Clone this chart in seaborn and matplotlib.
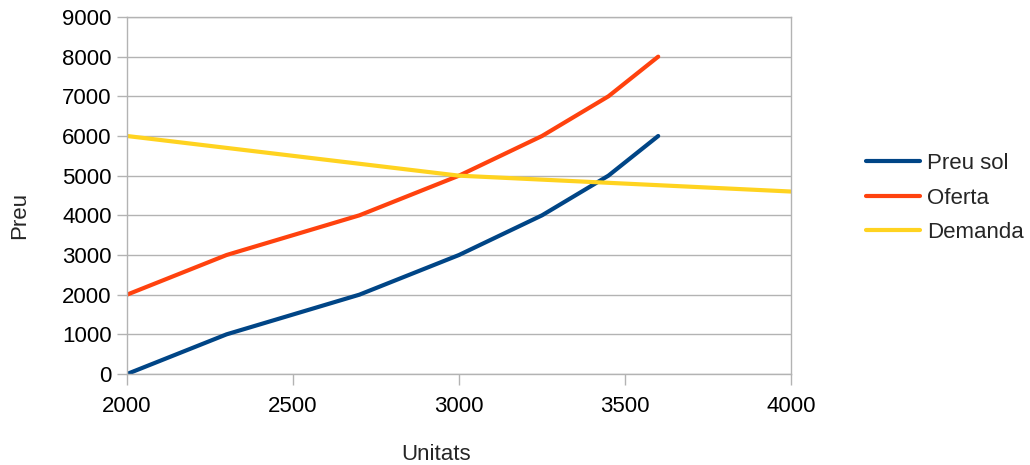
import matplotlib
matplotlib.use("Agg")
import matplotlib.pyplot as plt
import seaborn as sns
import pandas as pd

units = [2000, 2300, 2700, 3000, 3250, 3450, 3600]
preu_sol = [0, 1000, 2000, 3000, 4000, 5000, 6000]
oferta = [2000, 3000, 4000, 5000, 6000, 7000, 8000]
demanda_units = [2000, 2300, 2700, 3000, 3250, 3450, 3600, 4000]
demanda = [6000, 5700, 5300, 5000, 4900, 4820, 4760, 4600]

series_names = ["Preu sol", "Oferta", "Demanda"]
colors = ["#004586", "#ff420e", "#ffd320"]

df = pd.concat([
    pd.DataFrame({"Unitats": units, "Preu": preu_sol, "Serie": "Preu sol"}),
    pd.DataFrame({"Unitats": units, "Preu": oferta, "Serie": "Oferta"}),
    pd.DataFrame({"Unitats": demanda_units, "Preu": demanda, "Serie": "Demanda"}),
], ignore_index=True)

sns.set_style("white")
plt.rcParams["font.family"] = ["Liberation Sans", "DejaVu Sans"]

fig = plt.figure(figsize=(10.3, 4.65), dpi=100)
ax = fig.add_axes([127/1030, 1-374/465, 664/1030, 357/465])

sns.lineplot(data=df, x="Unitats", y="Preu", hue="Serie", hue_order=series_names,
             palette=colors, linewidth=3.0, sort=False, ax=ax, legend=False)

ax.set_xlim(2000, 4000)
ax.set_ylim(0, 9000)
ax.set_xticks([2000, 2500, 3000, 3500, 4000])
ax.set_yticks(range(0, 9001, 1000))
ax.yaxis.grid(True, color="#b3b3b3", linewidth=1)
ax.xaxis.grid(False)
for s in ax.spines.values():
    s.set_color("#b3b3b3")
    s.set_linewidth(1)
ax.tick_params(axis="both", which="major", labelsize=16, colors="#b3b3b3",
               labelcolor="black", width=1)
ax.tick_params(axis="y", length=7, pad=4, left=True)
ax.tick_params(axis="x", length=8, pad=8, bottom=True)

ax.set_xlabel("Unitats", fontsize=16)
ax.set_ylabel("Preu", fontsize=16)
ax.xaxis.set_label_coords(0.465, -0.196)
ax.yaxis.set_label_coords(-0.146, 0.445)

from matplotlib.lines import Line2D
handles = [Line2D([], [], color=c, linewidth=3.0) for c in colors]
fig.legend(handles, series_names, loc="center left",
           bbox_to_anchor=(866/1030, 1-198/465), frameon=False, fontsize=16,
           borderpad=0, borderaxespad=0, handlelength=2.45, handletextpad=0.3,
           labelspacing=0.62)

fig.savefig("out.png", dpi=100)
